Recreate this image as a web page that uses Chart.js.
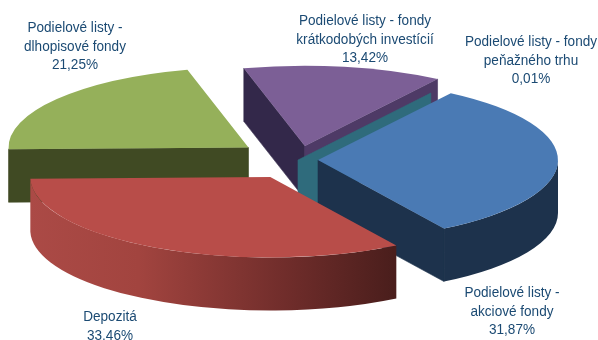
<!DOCTYPE html>
<html>
<head>
<meta charset="utf-8">
<title>Štruktúra portfólia</title>
<style>
  html, body { margin: 0; padding: 0; background: #fff; overflow: hidden; }
  canvas { display: block; }
</style>
<script src="https://cdn.jsdelivr.net/npm/chart.js@4"></script>
</head>
<body>
<canvas id="chart" width="598" height="340"></canvas>
<script>
const categories = [
  'Podielové listy - akciové fondy',
  'Depozitá',
  'Podielové listy - dlhopisové fondy',
  'Podielové listy - fondy krátkodobých investícií',
  'Podielové listy - fondy peňažného trhu'
];
const shares = [31.87, 33.46, 21.25, 13.42, 0.01];

// how each label is broken into lines
const labelLines = [
  ['Podielové listy -', 'akciové fondy'],
  ['Depozitá'],
  ['Podielové listy -', 'dlhopisové fondy'],
  ['Podielové listy - fondy', 'krátkodobých investícií'],
  ['Podielové listy - fondy', 'peňažného trhu']
];

const topColors = ['#4a7ab4', '#b84d49', '#95b05a', '#7c5f96', '#2f6b7c'];
const startWallColors = ['#1d324c', '#6e2c2a', '#404a23', '#33284a', '#2f6b7c'];
const endWallColors = ['#1d324c', '#6e2c2a', '#404a23', '#4e3a66', '#2f6b7c'];
const rimColors = ['#1d324c', null, '#404a23', '#33284a', '#2f6b7c'];

// pie is tilted by flattening y, and every slice is pulled out on its own
const center = { x: 298, y: 160 };
const tilt = 0.335;
const depth = 53;
const explode = [20, 58, 62, 42, 0];
const paintOrder = [2, 3, 4, 0, 1];
const labelPos = [
  { x: 512, y: 293 },
  { x: 110, y: 317 },
  { x: 75, y: 28 },
  { x: 365, y: 21 },
  { x: 531, y: 42 }
];

function sliceApex(arc, i) {
  const mid = (arc.startAngle + arc.endAngle) / 2;
  return {
    x: center.x + Math.cos(mid) * explode[i],
    y: center.y + Math.sin(mid) * explode[i] * tilt
  };
}

function radialWall(ctx, apex, r, angle, color) {
  const rimX = apex.x + Math.cos(angle) * r;
  const rimY = apex.y + Math.sin(angle) * r * tilt;
  ctx.beginPath();
  ctx.moveTo(apex.x, apex.y);
  ctx.lineTo(rimX, rimY);
  ctx.lineTo(rimX, rimY + depth);
  ctx.lineTo(apex.x, apex.y + depth);
  ctx.closePath();
  ctx.fillStyle = color;
  ctx.fill();
  ctx.strokeStyle = color;
  ctx.lineWidth = 0.6;
  ctx.stroke();
}

function rimWall(ctx, apex, r, from, to, color) {
  ctx.beginPath();
  ctx.ellipse(apex.x, apex.y, r, r * tilt, 0, from, to);
  ctx.ellipse(apex.x, apex.y + depth, r, r * tilt, 0, to, from, true);
  ctx.closePath();
  ctx.fillStyle = color;
  ctx.fill();
}

// red side darkens towards the right
function redRim(ctx) {
  const g = ctx.createLinearGradient(29, 0, 394, 0);
  g.addColorStop(0, '#ab4a46');
  g.addColorStop(0.3, '#a2443f');
  g.addColorStop(0.72, '#6e2c2a');
  g.addColorStop(1, '#4a1e1c');
  return g;
}

const pie3d = {
  id: 'pie3d',
  beforeDatasetDraw(chart, args) {
    const ctx = chart.ctx;
    const arcs = chart.getDatasetMeta(args.index).data;
    paintOrder.forEach(i => {
      const arc = arcs[i];
      const apex = sliceApex(arc, i);
      const r = arc.outerRadius;
      if (-Math.cos(arc.startAngle) > 0) radialWall(ctx, apex, r, arc.startAngle, startWallColors[i]);
      if (Math.cos(arc.endAngle) > 0) radialWall(ctx, apex, r, arc.endAngle, endWallColors[i]);
      const from = Math.max(arc.startAngle, 0);
      const to = Math.min(arc.endAngle, Math.PI);
      if (from < to) rimWall(ctx, apex, r, from, to, rimColors[i] || redRim(ctx));

      ctx.save();
      ctx.translate(apex.x, apex.y);
      ctx.scale(1, tilt);
      ctx.translate(-arc.x, -arc.y);
      arc.draw(ctx);
      ctx.restore();
    });
    return false;
  },
  afterDraw(chart) {
    const ctx = chart.ctx;
    ctx.save();
    ctx.font = '14px "Liberation Sans", Arial, sans-serif';
    ctx.fillStyle = '#1b4a73';
    ctx.textAlign = 'center';
    ctx.textBaseline = 'middle';
    shares.forEach((v, i) => {
      const lines = labelLines[i].concat(v.toFixed(2).replace('.', ',') + '%');
      lines.forEach((t, n) => {
        ctx.save();
        ctx.translate(labelPos[i].x, labelPos[i].y + n * 18.7);
        ctx.scale(0.97, 1); // slightly narrower lettering
        ctx.fillText(t, 0, 0);
        ctx.restore();
      });
    });
    ctx.restore();
  }
};

new Chart(document.getElementById('chart').getContext('2d'), {
  type: 'pie',
  data: {
    labels: categories,
    datasets: [{
      data: shares,
      backgroundColor: topColors,
      borderWidth: 0,
      clip: false
    }]
  },
  options: {
    responsive: false,
    animation: false,
    rotation: 33.6,
    radius: 240,
    plugins: {
      legend: { display: false },
      tooltip: { enabled: false }
    }
  },
  plugins: [pie3d]
});
</script>
</body>
</html>
